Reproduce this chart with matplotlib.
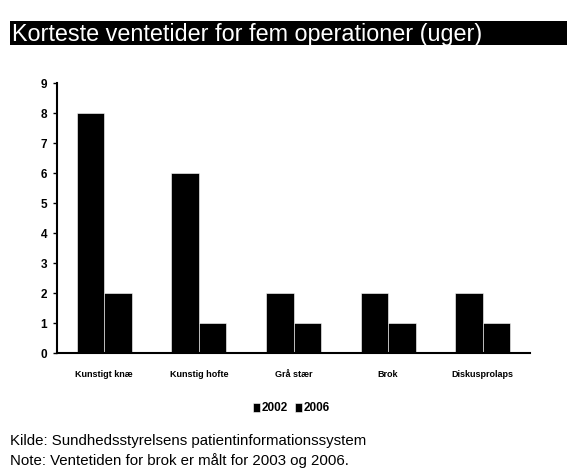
import matplotlib.pyplot as plt
import numpy as np
from matplotlib.patches import Rectangle

plt.rcParams["font.family"] = ["Liberation Sans", "DejaVu Sans"]

categories = ["Kunstigt knæ", "Kunstig hofte", "Grå stær", "Brok", "Diskusprolaps"]
years = ["2002", "2006"]
weeks_2002 = [8, 6, 2, 2, 2]
weeks_2006 = [2, 1, 1, 1, 1]
yticks = list(range(0, 10))

fig = plt.figure(figsize=(5.67, 4.72), dpi=100)

# black title banner
fig.patches.append(Rectangle((10 / 567, 1 - 45 / 472), 1 - 10 / 567, 24 / 472,
                             transform=fig.transFigure, facecolor="black",
                             edgecolor="none", zorder=0))
fig.text(12 / 567, 1 - 34 / 472, "Korteste ventetider for fem operationer (uger)",
         color="white", fontsize=16.8, va="center", ha="left")

ax = fig.add_axes([57 / 567, 1 - 353 / 472, 473 / 567, 270 / 472])
x = np.arange(len(categories))
w = 0.29
ax.bar(x - w / 2, weeks_2002, w, color="black", edgecolor="white", linewidth=0.4, label=years[0])
ax.bar(x + w / 2, weeks_2006, w, color="black", edgecolor="white", linewidth=0.4, label=years[1])

ax.set_xlim(-0.5, len(categories) - 0.5)
ax.set_ylim(0, 9)
ax.set_yticks(yticks)
ax.set_yticklabels([str(v) for v in yticks], fontsize=8.5, fontweight="bold")
ax.set_xticks(x)
ax.set_xticklabels(categories, fontsize=6.5, fontweight="bold")
ax.tick_params(axis="x", length=0, pad=12)
ax.tick_params(axis="y", length=3, width=1, pad=4)
for s in ["top", "right"]:
    ax.spines[s].set_visible(False)
ax.spines["left"].set_linewidth(1.5)
ax.spines["bottom"].set_linewidth(1.5)

ax.legend(loc="center", bbox_to_anchor=(0.495, -0.205), ncol=2, frameon=False,
          prop={"size": 8.5, "weight": "bold"}, handlelength=0.6, handleheight=0.8,
          handletextpad=0.15, columnspacing=0.6)

fig.text(10 / 567, 1 - 441 / 472, "Kilde: Sundhedsstyrelsens patientinformationssystem",
         fontsize=10.8, va="center", ha="left")
fig.text(10 / 567, 1 - 461 / 472, "Note: Ventetiden for brok er målt for 2003 og 2006.",
         fontsize=10.8, va="center", ha="left")

fig.savefig("out.png", dpi=100)
